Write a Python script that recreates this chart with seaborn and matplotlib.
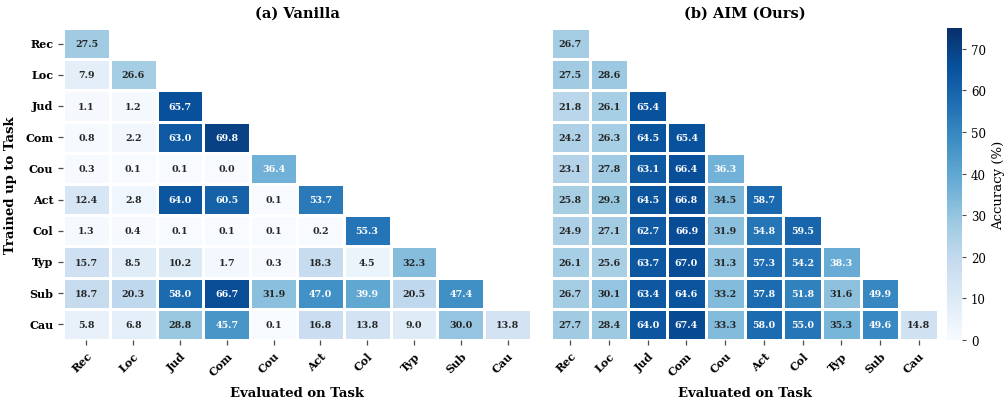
import numpy as np
import pandas as pd
import seaborn as sns
import matplotlib.pyplot as plt

# ==== DATA ====
tasks = ["Rec", "Loc", "Jud", "Com", "Cou", "Act", "Col", "Typ", "Sub", "Cau"]

vanilla_rows = [
    [27.5],
    [7.9, 26.6],
    [1.1, 1.2, 65.7],
    [0.8, 2.2, 63.0, 69.8],
    [0.3, 0.1, 0.1, 0.0, 36.4],
    [12.4, 2.8, 64.0, 60.5, 0.1, 53.7],
    [1.3, 0.4, 0.1, 0.1, 0.1, 0.2, 55.3],
    [15.7, 8.5, 10.2, 1.7, 0.3, 18.3, 4.5, 32.3],
    [18.7, 20.3, 58.0, 66.7, 31.9, 47.0, 39.9, 20.5, 47.4],
    [5.8, 6.8, 28.8, 45.7, 0.1, 16.8, 13.8, 9.0, 30.0, 13.8],
]

aim_rows = [
    [26.7],
    [27.5, 28.6],
    [21.8, 26.1, 65.4],
    [24.2, 26.3, 64.5, 65.4],
    [23.1, 27.8, 63.1, 66.4, 36.3],
    [25.8, 29.3, 64.5, 66.8, 34.5, 58.7],
    [24.9, 27.1, 62.7, 66.9, 31.9, 54.8, 59.5],
    [26.1, 25.6, 63.7, 67.0, 31.3, 57.3, 54.2, 38.3],
    [26.7, 30.1, 63.4, 64.6, 33.2, 57.8, 51.8, 31.6, 49.9],
    [27.7, 28.4, 64.0, 67.4, 33.3, 58.0, 55.0, 35.3, 49.6, 14.8],
]


def to_frame(rows):
    n = len(tasks)
    mat = np.full((n, n), np.nan)
    for i, r in enumerate(rows):
        mat[i, :len(r)] = r
    return pd.DataFrame(mat, index=tasks, columns=tasks)


df_van = to_frame(vanilla_rows)
df_aim = to_frame(aim_rows)

# ==== PLOT ====
plt.rcParams['font.family'] = 'DejaVu Serif'

fig = plt.figure(figsize=(10.08, 4.02), dpi=100)
bottom, height = 61 / 402, 312 / 402
ax1 = fig.add_axes([63 / 1008, bottom, 468 / 1008, height])
ax2 = fig.add_axes([551 / 1008, bottom, 387 / 1008, height])
cax = fig.add_axes([947 / 1008, bottom, 15 / 1008, height])

kw = dict(cmap="Blues", vmin=0, vmax=75, annot=True, fmt=".1f",
          linewidths=0.8, linecolor="white",
          annot_kws={"fontsize": 6.8, "fontweight": "bold"})

sns.heatmap(df_van, ax=ax1, cbar=False, **kw)
sns.heatmap(df_aim, ax=ax2, cbar=True, cbar_ax=cax, **kw)

cax.set_ylabel("Accuracy (%)", fontsize=9.5)
cax.tick_params(labelsize=8.5, length=3, color="0.3")

for ax, title in [(ax1, "(a) Vanilla"), (ax2, "(b) AIM (Ours)")]:
    ax.set_title(title, fontsize=10.5, fontweight="bold", pad=8)
    ax.set_xlabel("Evaluated on Task", fontsize=9.5, fontweight="bold", labelpad=6)
    ax.set_xticklabels(tasks, rotation=45, ha="right", rotation_mode="anchor",
                       fontsize=8, fontweight="bold")
    ax.tick_params(axis="x", bottom=True, length=3.5, width=0.9, color="0.3")

ax1.set_ylabel("Trained up to Task", fontsize=9.5, fontweight="bold", labelpad=6)
ax1.set_yticklabels(tasks, rotation=0, fontsize=8, fontweight="bold")
ax1.tick_params(axis="y", left=True, length=3.5, width=0.9, color="0.3")
ax2.set_ylabel("")
ax2.set_yticks([])

fig.savefig("out.png", dpi=100)
